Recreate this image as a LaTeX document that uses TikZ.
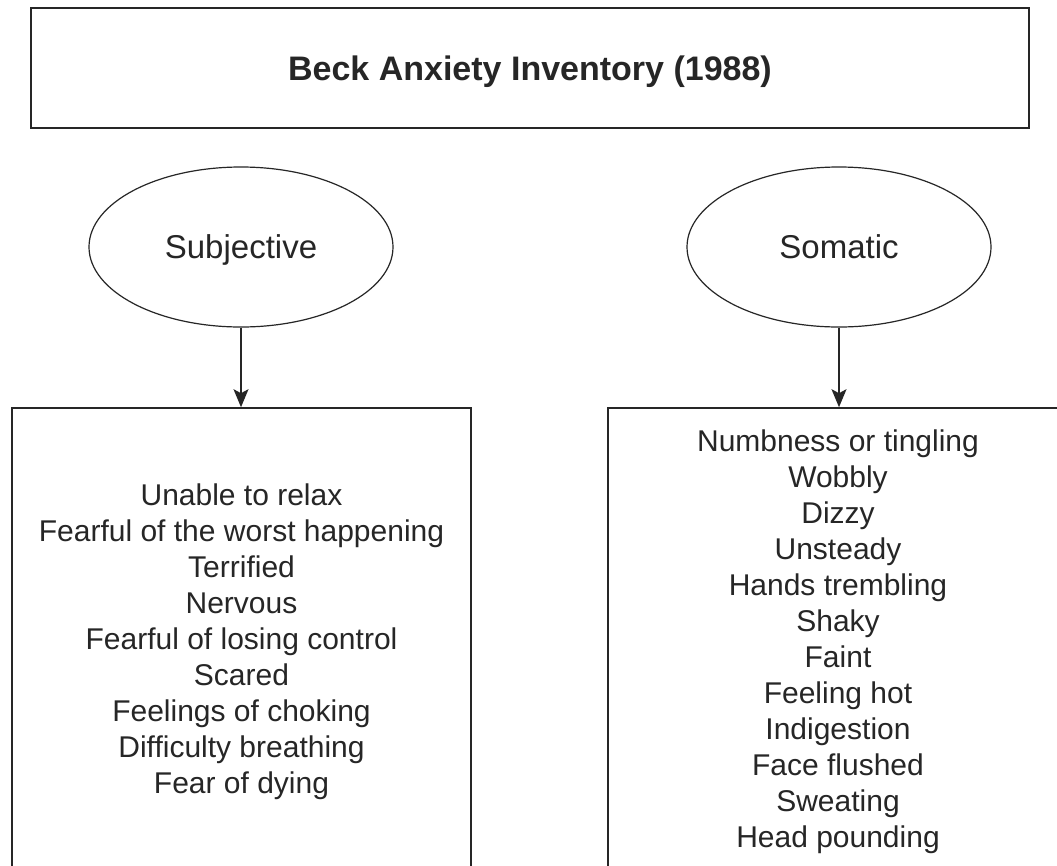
\documentclass[tikz,border=0pt]{standalone}
\usepackage{fontspec}
\setmainfont{Liberation Sans}
\usetikzlibrary{shapes.geometric,arrows.meta}
% lower a label without changing the box size the node sees
\newcommand{\lowered}[2]{\raisebox{-#1}[\height][\depth]{#2}}
\begin{document}
\begin{tikzpicture}[x=1pt,y=-1pt,
  box/.style={draw=black!85,line width=1.6pt,rectangle,inner sep=0pt,align=center,text=black!85},
  oval/.style={draw=black!85,line width=1.2pt,ellipse,inner sep=0pt,text=black!85,
    minimum width=304pt,minimum height=160pt,font=\fontsize{33}{40}\selectfont},
  listtext/.style={font=\fontsize{30}{36}\selectfont},
  link/.style={draw=black!85,line width=1.3pt,-{Stealth[length=18pt,width=15pt,inset=4pt]}}
]
\clip (0,0) rectangle (1057,865);
\fill[white] (0,0) rectangle (1057,865);

% heading
\node[box,minimum width=998pt,minimum height=120pt,
  font=\fontsize{34}{40}\selectfont\bfseries] (title) at (530,68)
  {\lowered{4pt}{Beck Anxiety Inventory (1988)}};

% the two symptom groups
\node[oval] (subj) at (241,247) {\lowered{3pt}{Subjective}};
\node[oval] (soma) at (839,247) {Somatic};

% symptom lists (boxes run past the lower edge)
\node[box,listtext,minimum width=459pt,minimum height=468pt] (subjlist) at (241.5,642)
  {Unable to relax\\Fearful of the worst happening\\Terrified\\Nervous\\
   Fearful of losing control\\Scared\\Feelings of choking\\Difficulty breathing\\Fear of dying};
\node[box,listtext,minimum width=460pt,minimum height=468pt] (somalist) at (838,642)
  {Numbness or tingling\\Wobbly\\Dizzy\\Unsteady\\Hands trembling\\Shaky\\Faint\\
   Feeling hot\\Indigestion\\Face flushed\\Sweating\\Head pounding};

% connectors
\draw[link] (subj.south) -- (subj.south |- subjlist.north);
\draw[link] (soma.south) -- (soma.south |- somalist.north);
\end{tikzpicture}
\end{document}
